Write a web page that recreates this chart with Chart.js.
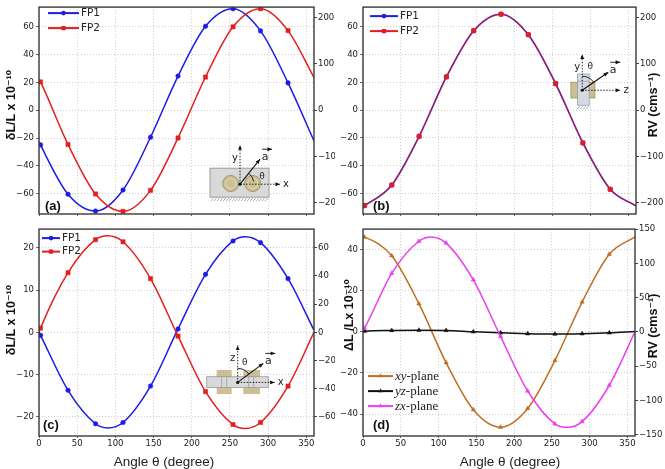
<!DOCTYPE html>
<html>
<head>
<meta charset="utf-8">
<script src="https://cdn.jsdelivr.net/npm/chart.js@4.4.0/dist/chart.umd.min.js"></script>
<style>
body { margin: 0; background: #fff; }
#fig { position: relative; width: 665px; height: 469px; overflow: hidden; }
.panel { position: absolute; }
</style>
</head>
<body>
<div id="fig">
  <div class="panel" style="left:0;top:0;width:335px;height:222px"><canvas id="pa"></canvas></div>
  <div class="panel" style="left:335px;top:0;width:330px;height:222px"><canvas id="pb"></canvas></div>
  <div class="panel" style="left:0;top:222px;width:335px;height:247px"><canvas id="pc"></canvas></div>
  <div class="panel" style="left:335px;top:222px;width:330px;height:247px"><canvas id="pd"></canvas></div>
</div>
<script>
// ===========================================
// Data
// ===========================================

// angles where the markers sit, shared by every curve
var markerAngles = [2, 38, 74, 110, 146, 182, 218, 254, 290, 326];

// tick labels
var angleTicks = [0, 50, 100, 150, 200, 250, 300, 350];
var ab_leftTicks = [-60, -40, -20, 0, 20, 40, 60];
var ab_rightTicks = [-200, -100, 0, 100, 200];
var c_leftTicks = [-20, -10, 0, 10, 20];
var c_rightTicks = [-60, -40, -20, 0, 20, 40, 60];
var d_leftTicks = [-40, -20, 0, 20, 40];
var d_rightTicks = [-150, -100, -50, 0, 50, 100, 150];

// (a) values at markers, curve value at 0 and 360 deg
var a_fp1 = [-24.9, -60.4, -72.5, -57.3, -19.4, 24.6, 60.4, 73.0, 57.1, 19.7];
var a_fp1_ends = [-22.5, -22.0];
var a_fp2 = [20.4, -24.6, -60.2, -72.7, -57.6, -19.9, 23.9, 60.0, 73.0, 57.3];
var a_fp2_ends = [22.4, 23.5];

// (b) both cavities give the same curve
var b_fp1 = [-68.7, -53.9, -18.8, 24.0, 57.3, 69.2, 54.4, 19.2, -23.6, -57.0];
var b_fp2 = [-68.7, -53.9, -18.8, 24.0, 57.3, 69.2, 54.4, 19.2, -23.6, -57.0];
var b_ends = [-69.3, -69.0];

// (c) plus the curve extremes between markers
var c_fp1 = [-0.7, -13.7, -21.6, -21.3, -12.7, 0.8, 13.7, 21.6, 21.2, 12.7];
var c_fp1_ends = [0.0, 0.5];
var c_fp1_peaks = [[90, -22.6], [270, 22.6]];
var c_fp2 = [1.0, 14.1, 21.9, 21.4, 12.7, -0.9, -14.0, -21.8, -21.3, -12.7];
var c_fp2_ends = [0.0, 0.0];
var c_fp2_peaks = [[90, 22.8], [270, -22.7]];

// (d)
var d_labels = ["xy-plane", "yz-plane", "zx-plane"];
var d_xy = [46.1, 37.0, 13.7, -15.0, -37.9, -46.4, -37.3, -14.0, 14.5, 37.8];
var d_xy_ends = [46.2, 46.2];
var d_yz = [0.3, 0.7, 0.8, 0.7, 0.0, -0.5, -0.9, -1.1, -0.9, -0.5];
var d_yz_ends = [0.2, 0.2];
var d_zx = [1.75, 28.5, 44.1, 43.2, 25.3, -2.2, -28.8, -44.8, -43.7, -26.0];
var d_zx_ends = [0.6, 0.0];
var d_zx_peaks = [[90, 46.2], [270, -46.5]];

// Colors
var blue = "#1c1ce6";
var red = "#e41e1e";
var brown = "#bf6f22";
var magenta = "#ee3dee";

var tickFont = { family: "'DejaVu Sans'", size: 8.5 };

// Axis titles
var lTitle = "\u03b4L/L x 10\u207b\u00b9\u2070";
var dTitle = "\u0394L /Lx 10\u207b\u00b9\u2070";
var rTitle = "RV (cms\u207b\u00b9)";
var xTitle = "Angle \u03b8 (degree)";

// ===========================================
// Helpers
// ===========================================
function fmt(v) {
	return v < 0 ? "\u2212" + Math.abs(v) : String(v);
}

function buildCurve(vals, ends, extra) {
	var pts = [{ x: 0, y: ends[0], m: false }];
	markerAngles.forEach(function (a, i) { pts.push({ x: a, y: vals[i], m: true }); });
	(extra || []).forEach(function (p) { pts.push({ x: p[0], y: p[1], m: false }); });
	pts.push({ x: 360, y: ends[1], m: false });
	pts.sort(function (p, q) { return p.x - q.x; });
	return pts;
}

function series(label, pts, color, style, r, order, lineColor) {
	return {
		label: label,
		data: pts,
		order: order,
		borderColor: lineColor || color,
		borderWidth: 1.5,
		pointStyle: style,
		markerR: r,
		pointBackgroundColor: color,
		pointBorderColor: color,
		pointBorderWidth: 0.5,
		pointRadius: function (c) { return c.raw && c.raw.m ? r : 0; },
		cubicInterpolationMode: "monotone",
		fill: false
	};
}

function xAxis(showLabels, h) {
	return {
		type: "linear", min: 0, max: 360,
		afterBuildTicks: function (s) { s.ticks = angleTicks.map(function (v) { return { value: v }; }); },
		afterFit: function (s) { s.height = h; },
		ticks: { display: showLabels, font: tickFont, color: "#222", padding: 1, maxRotation: 0, autoSkip: false, callback: fmt },
		grid: { color: "#c2c2c2", lineWidth: 0.8, tickLength: 2, tickColor: "#444" },
		border: { display: false, dash: [1, 2] },
		title: { display: false }
	};
}

function yAxis(pos, min, max, tickVals, w) {
	var left = pos === "left";
	return {
		type: "linear", position: pos, min: min, max: max,
		afterBuildTicks: function (s) { s.ticks = tickVals.map(function (v) { return { value: v }; }); },
		afterFit: function (s) { s.width = w; },
		ticks: { font: tickFont, color: "#222", padding: left ? 2 : 1, autoSkip: false, callback: fmt },
		grid: left ? { color: "#c2c2c2", lineWidth: 0.8, tickLength: 3, tickColor: "#444" }
			: { drawOnChartArea: false, tickLength: 3, tickColor: "#444" },
		border: { display: false, dash: [1, 2] },
		title: { display: false }
	};
}

function marker(ctx, style, x, y, r) {
	ctx.beginPath();
	if (style === "rect") {
		var s = r * Math.SQRT1_2;
		ctx.rect(x - s, y - s, 2 * s, 2 * s);
	} else if (style === "triangle") {
		ctx.moveTo(x, y - r);
		ctx.lineTo(x + r * 0.87, y + r * 0.5);
		ctx.lineTo(x - r * 0.87, y + r * 0.5);
		ctx.closePath();
	} else {
		ctx.arc(x, y, r, 0, Math.PI * 2);
	}
	ctx.fill();
}

function arrow(ctx, x1, y1, x2, y2, dashed) {
	ctx.setLineDash(dashed ? [1.5, 1.5] : []);
	ctx.beginPath(); ctx.moveTo(x1, y1); ctx.lineTo(x2, y2); ctx.stroke();
	ctx.setLineDash([]);
	var ang = Math.atan2(y2 - y1, x2 - x1), h = 5;
	ctx.beginPath(); ctx.moveTo(x2, y2);
	ctx.lineTo(x2 - h * Math.cos(ang - 0.4), y2 - h * Math.sin(ang - 0.4));
	ctx.lineTo(x2 - h * Math.cos(ang + 0.4), y2 - h * Math.sin(ang + 0.4));
	ctx.closePath(); ctx.fill();
}

function label(ctx, t, x, y, size) {
	ctx.font = (size || 10) + "px 'DejaVu Sans'";
	ctx.textAlign = "center"; ctx.textBaseline = "middle";
	ctx.fillText(t, x, y);
}

function hatch(ctx, x1, x2, y) {
	ctx.strokeStyle = "#8a8a8a"; ctx.lineWidth = 0.7;
	ctx.beginPath();
	for (var hx = x1; hx < x2; hx += 3) { ctx.moveTo(hx, y + 3); ctx.lineTo(hx + 2.5, y); }
	ctx.stroke();
}

// the small axis sketches in (a), (b), (c)
function axesSketch(ctx, ox, oy, up, right, a, upName, rightName, thetaAt, arcFrom, arcTo) {
	ctx.fillStyle = "#111"; ctx.strokeStyle = "#111"; ctx.lineWidth = 0.9;
	arrow(ctx, ox, oy, ox, oy - up, true);
	arrow(ctx, ox, oy, ox + right, oy, true);
	ctx.lineWidth = 1.1;
	arrow(ctx, ox, oy, ox + a[0], oy + a[1], false);
	ctx.lineWidth = 0.9;
	arrow(ctx, ox + a[0] + 2, oy + a[1] - 10, ox + a[0] + 12, oy + a[1] - 10, false);
	ctx.beginPath(); ctx.arc(ox, oy, 1.6, 0, Math.PI * 2); ctx.fill();
	ctx.beginPath(); ctx.arc(ox, oy, 14, arcFrom, arcTo); ctx.stroke();
	ctx.fillStyle = "#222";
	label(ctx, upName, ox - 5, oy - up + 13, 10);
	label(ctx, rightName, ox + right + 6, oy, 10);
	label(ctx, "a", ox + a[0] + 5, oy + a[1] - 2, 11);
	label(ctx, "\u03b8", ox + thetaAt[0], oy + thetaAt[1], 9);
}

var insets = {
	xy: function (ctx, ox, oy) {
		ctx.fillStyle = "#d9d9d9"; ctx.strokeStyle = "#9c9c9c"; ctx.lineWidth = 1;
		ctx.fillRect(ox - 30, oy - 16, 59, 29); ctx.strokeRect(ox - 30, oy - 16, 59, 29);
		hatch(ctx, ox - 29, ox + 28, oy + 14);
		[-9.3, 12.7].forEach(function (cx) {
			ctx.fillStyle = "#cbbf95"; ctx.strokeStyle = "#a39463"; ctx.lineWidth = 1;
			ctx.beginPath(); ctx.arc(ox + cx, oy - 0.7, 8, 0, Math.PI * 2); ctx.fill(); ctx.stroke();
			ctx.strokeStyle = "#e4dab6";
			ctx.beginPath(); ctx.arc(ox + cx, oy - 0.7, 5, 0, Math.PI * 2); ctx.stroke();
		});
		axesSketch(ctx, ox, oy, 39, 40, [20, -25], "y", "x", [22, -8], -0.9, -0.2);
	},
	yz: function (ctx, ox, oy) {
		ctx.fillStyle = "#cdbf94"; ctx.strokeStyle = "#9e9060"; ctx.lineWidth = 0.8;
		ctx.fillRect(ox - 11.3, oy - 8, 6.7, 15.7); ctx.strokeRect(ox - 11.3, oy - 8, 6.7, 15.7);
		ctx.fillRect(ox + 7, oy - 8, 5.7, 15.7); ctx.strokeRect(ox + 7, oy - 8, 5.7, 15.7);
		ctx.fillStyle = "#d5d9e1"; ctx.strokeStyle = "#9aa0aa";
		ctx.fillRect(ox - 4.6, oy - 16.3, 11.6, 31.3); ctx.strokeRect(ox - 4.6, oy - 16.3, 11.6, 31.3);
		ctx.beginPath(); ctx.moveTo(ox - 4.6, oy - 9); ctx.lineTo(ox + 7, oy - 9); ctx.stroke();
		hatch(ctx, ox - 5, ox + 6, oy + 16);
		axesSketch(ctx, ox, oy, 36, 38, [26, -18], "y", "z", [8, -24], -1.57, -0.6);
	},
	zx: function (ctx, ox, oy) {
		ctx.fillStyle = "#cdbf94"; ctx.strokeStyle = "#a8996a"; ctx.lineWidth = 0.8;
		ctx.fillRect(ox - 21, oy - 12.4, 15, 24); ctx.fillRect(ox + 5.6, oy - 12.4, 16.7, 24);
		ctx.fillStyle = "#d9d9d9"; ctx.strokeStyle = "#999";
		ctx.fillRect(ox - 31, oy - 5.7, 61.6, 10.7); ctx.strokeRect(ox - 31, oy - 5.7, 61.6, 10.7);
		ctx.beginPath();
		[-16, -11, 11, 16].forEach(function (dx) { ctx.moveTo(ox + dx, oy - 5.7); ctx.lineTo(ox + dx, oy + 5); });
		ctx.stroke();
		axesSketch(ctx, ox, oy, 37, 37, [25.6, -19], "z", "x", [7, -20], -1.57, -0.65);
	}
};

var decoPlugin = {
	id: "deco",
	beforeDatasetsDraw: function (chart, args, o) {
		if (!o.inset) return;
		var ca = chart.chartArea, ctx = chart.ctx;
		ctx.save();
		insets[o.inset](ctx, ca.left + o.at[0] * (ca.right - ca.left), ca.top + o.at[1] * (ca.bottom - ca.top));
		ctx.restore();
	},
	afterDraw: function (chart, args, o) {
		var ctx = chart.ctx, ca = chart.chartArea;
		ctx.save();
		ctx.setLineDash([]);
		// frame
		ctx.strokeStyle = "#3a3a3a"; ctx.lineWidth = 1.4;
		ctx.strokeRect(ca.left, ca.top, ca.right - ca.left, ca.bottom - ca.top);

		// legend
		var lg = o.legend;
		chart.data.datasets.forEach(function (ds, i) {
			var x0 = ca.left + lg.x, y = ca.top + lg.y + i * lg.row;
			ctx.strokeStyle = ds.pointBackgroundColor; ctx.lineWidth = 2;
			ctx.beginPath(); ctx.moveTo(x0, y); ctx.lineTo(x0 + lg.len, y); ctx.stroke();
			ctx.fillStyle = ds.pointBackgroundColor;
			marker(ctx, ds.pointStyle, x0 + lg.len / 2, y, ds.markerR);
			ctx.fillStyle = "#222"; ctx.textAlign = "left"; ctx.textBaseline = "middle";
			var tx = x0 + lg.len + 2;
			if (lg.serif) {
				var cut = ds.label.indexOf("-");
				ctx.font = "italic 13px 'Liberation Serif'";
				ctx.fillText(ds.label.slice(0, cut), tx, y);
				tx += ctx.measureText(ds.label.slice(0, cut)).width;
				ctx.font = "13px 'Liberation Serif'";
				ctx.fillText(ds.label.slice(cut), tx, y);
			} else {
				ctx.font = "10.5px 'DejaVu Sans'";
				ctx.fillText(ds.label, tx, y);
			}
		});

		// panel tag
		ctx.fillStyle = "#111";
		ctx.font = "bold 13px 'Liberation Sans', 'DejaVu Sans'";
		ctx.textAlign = "left"; ctx.textBaseline = "bottom";
		ctx.fillText(o.panel, ca.left + o.panelX, ca.bottom - o.panelUp);

		// axis titles; rotated ones read upwards
		ctx.textAlign = "center"; ctx.textBaseline = "middle";
		(o.titles || []).forEach(function (t) {
			ctx.save();
			ctx.translate(t.x, t.y);
			if (t.up) {
				ctx.rotate(-Math.PI / 2);
				ctx.font = "bold 12.5px 'Liberation Sans', 'DejaVu Sans'";
				ctx.fillStyle = "#111";
			} else {
				ctx.font = "13.5px 'Liberation Sans', 'DejaVu Sans'";
				ctx.fillStyle = "#222";
			}
			ctx.fillText(t.text, 0, 0);
			ctx.restore();
		});
		ctx.restore();
	}
};

function makeChart(id, datasets, scales, deco, pad) {
	return new Chart(document.getElementById(id), {
		type: "line",
		data: { datasets: datasets },
		options: {
			responsive: true,
			maintainAspectRatio: false,
			animation: false,
			events: [],
			layout: { padding: pad, autoPadding: false },
			scales: scales,
			plugins: { legend: { display: false }, tooltip: { enabled: false }, deco: deco }
		},
		plugins: [decoPlugin]
	});
}

// ===========================================
// Panels (later series drawn on top)
// ===========================================
makeChart("pa", [
	series("FP1", buildCurve(a_fp1, a_fp1_ends), blue, "circle", 2.3, 0),
	series("FP2", buildCurve(a_fp2, a_fp2_ends), red, "rect", 3, -1)
], {
	x: xAxis(false, 8),
	y: yAxis("left", -74.6, 74.2, ab_leftTicks, 39),
	y2: yAxis("right", -223.8, 222.6, ab_rightTicks, 21)
}, {
	inset: "xy", at: [0.731, 0.856], legend: { x: 9, y: 6, len: 31, row: 15 }, panel: "(a)", panelX: 6, panelUp: 1,
	titles: [{ text: lTitle, x: 12, y: 105, up: true }]
}, { top: 5, left: 0, right: 0, bottom: 0 });

makeChart("pb", [
	series("FP1", buildCurve(b_fp1, b_ends), blue, "circle", 2.3, 0),
	series("FP2", buildCurve(b_fp2, b_ends), red, "rect", 3, -1, "rgba(228,30,30,0.6)")
], {
	x: xAxis(false, 8),
	y: yAxis("left", -74.8, 74.3, ab_leftTicks, 28),
	y2: yAxis("right", -224.4, 222.9, ab_rightTicks, 29)
}, {
	inset: "yz", at: [0.803, 0.402], legend: { x: 7, y: 9, len: 28, row: 15 }, panel: "(b)", panelX: 10, panelUp: 1,
	titles: [{ text: rTitle, x: 319, y: 105, up: true }]
}, { top: 5, left: 0, right: 0, bottom: 0 });

makeChart("pc", [
	series("FP1", buildCurve(c_fp1, c_fp1_ends, c_fp1_peaks), blue, "circle", 2.3, 0),
	series("FP2", buildCurve(c_fp2, c_fp2_ends, c_fp2_peaks), red, "rect", 3, -1)
], {
	x: xAxis(true, 33),
	y: yAxis("left", -24.5, 24.4, c_leftTicks, 39),
	y2: yAxis("right", -73.5, 73.2, c_rightTicks, 21)
}, {
	inset: "zx", at: [0.7225, 0.741], legend: { x: 3, y: 9, len: 18, row: 13.5 }, panel: "(c)", panelX: 4, panelUp: 4,
	titles: [{ text: lTitle, x: 12, y: 98, up: true }, { text: xTitle, x: 164, y: 240 }]
}, { top: 4, left: 0, right: 0, bottom: 0 });

makeChart("pd", [
	series(d_labels[0], buildCurve(d_xy, d_xy_ends), brown, "triangle", 2.5, 0),
	series(d_labels[1], buildCurve(d_yz, d_yz_ends), "#111", "triangle", 2.5, -1),
	series(d_labels[2], buildCurve(d_zx, d_zx_ends, d_zx_peaks), magenta, "triangle", 2.5, -2)
], {
	x: xAxis(true, 33),
	y: yAxis("left", -50.7, 50, d_leftTicks, 28),
	y2: yAxis("right", -152, 150, d_rightTicks, 30)
}, {
	legend: { x: 5, y: 147, len: 25, row: 15, serif: true }, panel: "(d)", panelX: 10, panelUp: 4,
	titles: [{ text: dTitle, x: 15, y: 93, up: true }, { text: rTitle, x: 319, y: 104, up: true }, { text: xTitle, x: 175, y: 240 }]
}, { top: 4, left: 0, right: 0, bottom: 0 });
</script>
</body>
</html>
